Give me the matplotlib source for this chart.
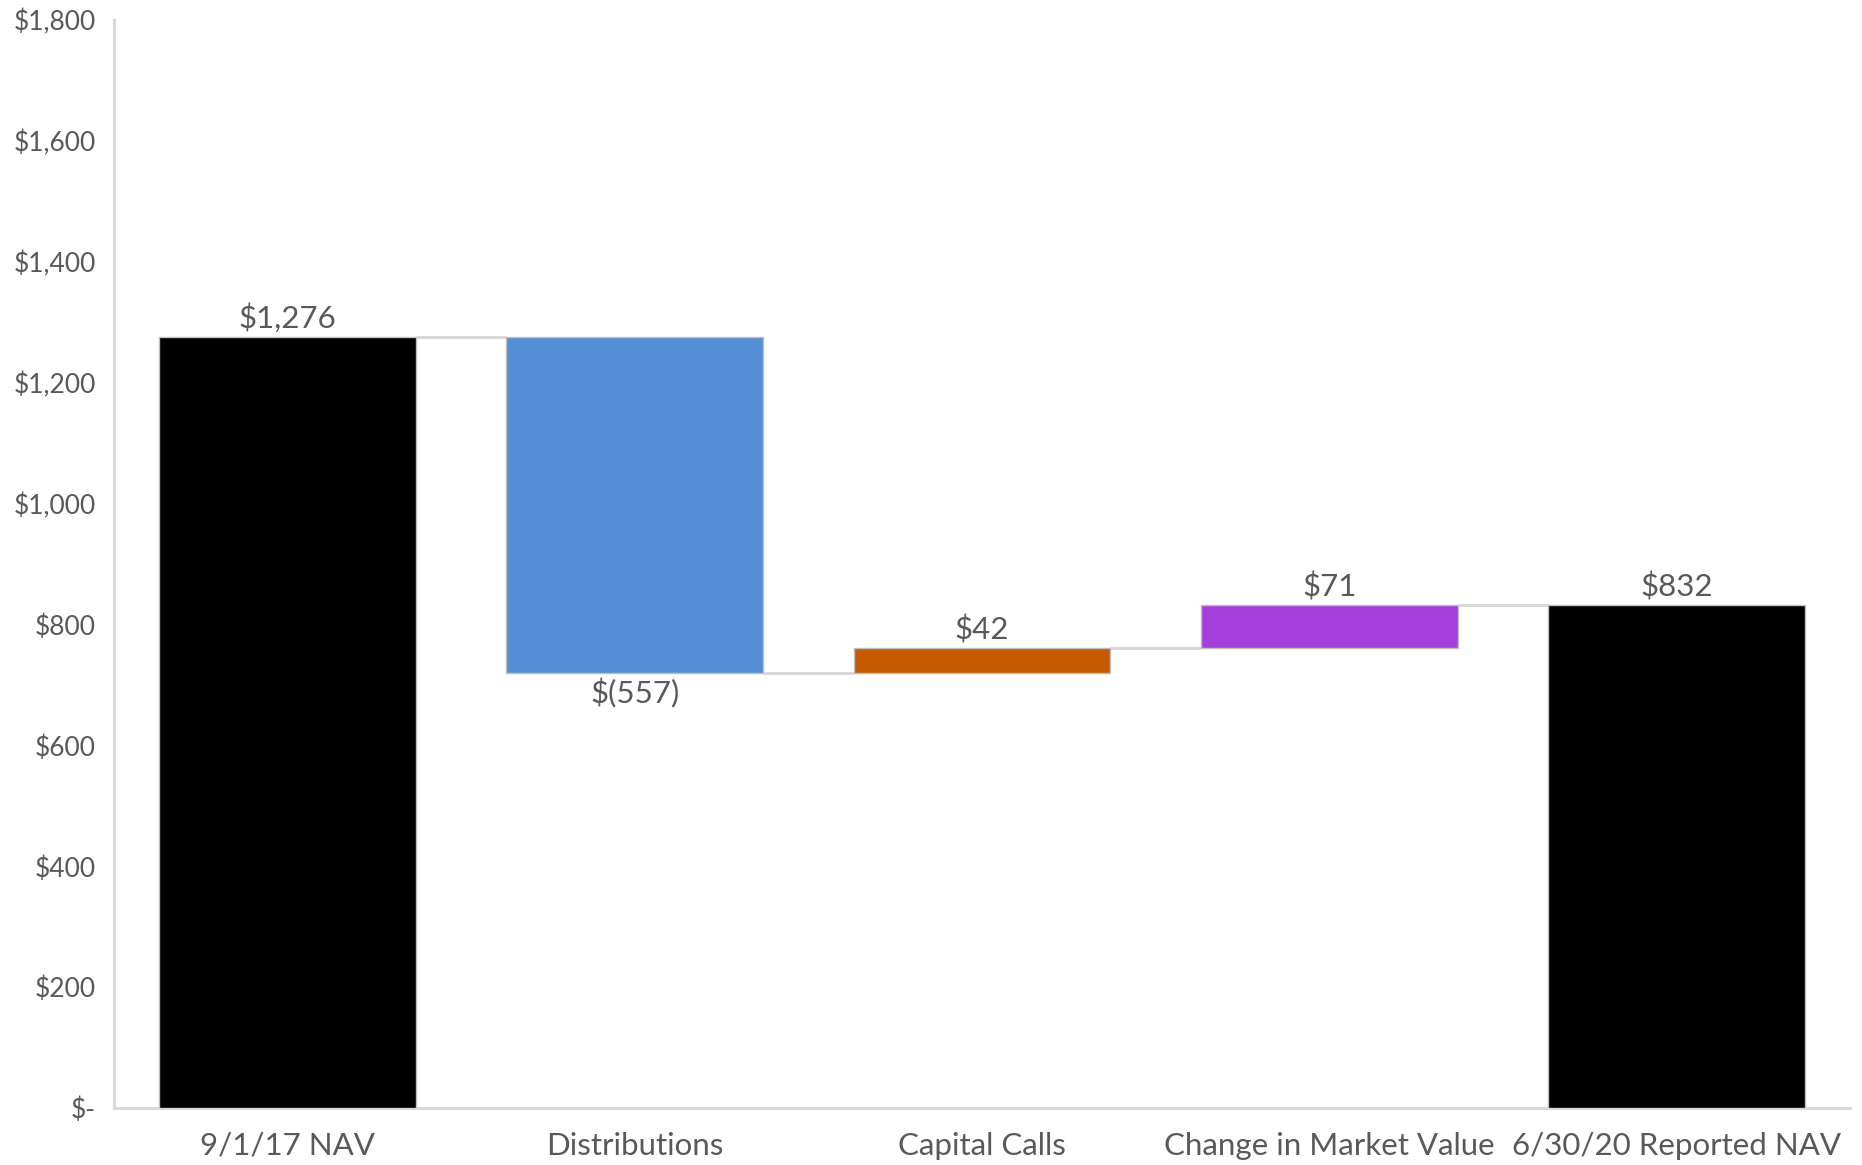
import matplotlib
matplotlib.use("Agg")
import matplotlib.pyplot as plt
from matplotlib.ticker import FuncFormatter

categories = ["9/1/17 NAV", "Distributions", "Capital Calls",
              "Change in Market Value", "6/30/20 Reported NAV"]
changes = [1276, -557, 42, 71, 832]
is_total = [True, False, False, False, True]
colors = ["#000000", "#558ed5", "#c55a00", "#a540dc", "#000000"]
value_labels = ["$1,276", "$(557)", "$42", "$71", "$832"]
y_ticks = [0, 200, 400, 600, 800, 1000, 1200, 1400, 1600, 1800]

plt.rcParams["font.family"] = ["Lato", "DejaVu Sans"]
text_color = "#595959"
grid_gray = "#d9d9d9"

fig = plt.figure(figsize=(18.62, 11.65), dpi=100)
ax = fig.add_axes([0.0612, 0.0489, 0.9324, 0.9339])

# running levels for the waterfall
bottoms, tops = [], []
level = 0
for v, tot in zip(changes, is_total):
    if tot:
        b, t = 0, v
        level = v
    else:
        b, t = level, level + v
        level = level + v
    bottoms.append(min(b, t))
    tops.append(max(b, t))

x = list(range(len(categories)))
width = 0.74
heights = [t - b for b, t in zip(bottoms, tops)]
ax.bar(x, heights, bottom=bottoms, width=width, color=colors,
       edgecolor="#bfbfbf", linewidth=1.0, zorder=3)

# connectors between consecutive bars
ends = []
level = 0
for v, tot in zip(changes, is_total):
    level = v if tot else level + v
    ends.append(level)
for i in range(len(x) - 1):
    ax.plot([x[i] + width / 2, x[i + 1] - width / 2], [ends[i], ends[i]],
            color=grid_gray, linewidth=2.2, zorder=2, solid_capstyle="butt")

# value labels
for i, (v, lab) in enumerate(zip(changes, value_labels)):
    if v < 0:
        ax.text(x[i], bottoms[i] - 8, lab, ha="center", va="top",
                fontsize=22.5, color=text_color)
    else:
        ax.text(x[i], tops[i] + 6, lab, ha="center", va="bottom",
                fontsize=22.5, color=text_color)

ax.set_xlim(-0.5, 4.5)
ax.set_ylim(0, 1800)
ax.set_yticks(y_ticks)
ax.yaxis.set_major_formatter(FuncFormatter(
    lambda val, pos: "$-" if val == 0 else f"${val:,.0f}"))
ax.set_xticks(x)
ax.set_xticklabels(categories)
ax.tick_params(axis="both", length=0, labelcolor=text_color)
ax.tick_params(axis="y", pad=13, labelsize=19)
ax.tick_params(axis="x", pad=17, labelsize=22.5)

for s in ["top", "right"]:
    ax.spines[s].set_visible(False)
for s in ["left", "bottom"]:
    ax.spines[s].set_color(grid_gray)
    ax.spines[s].set_linewidth(2.2)

fig.savefig("out.png", dpi=100, facecolor="white")
